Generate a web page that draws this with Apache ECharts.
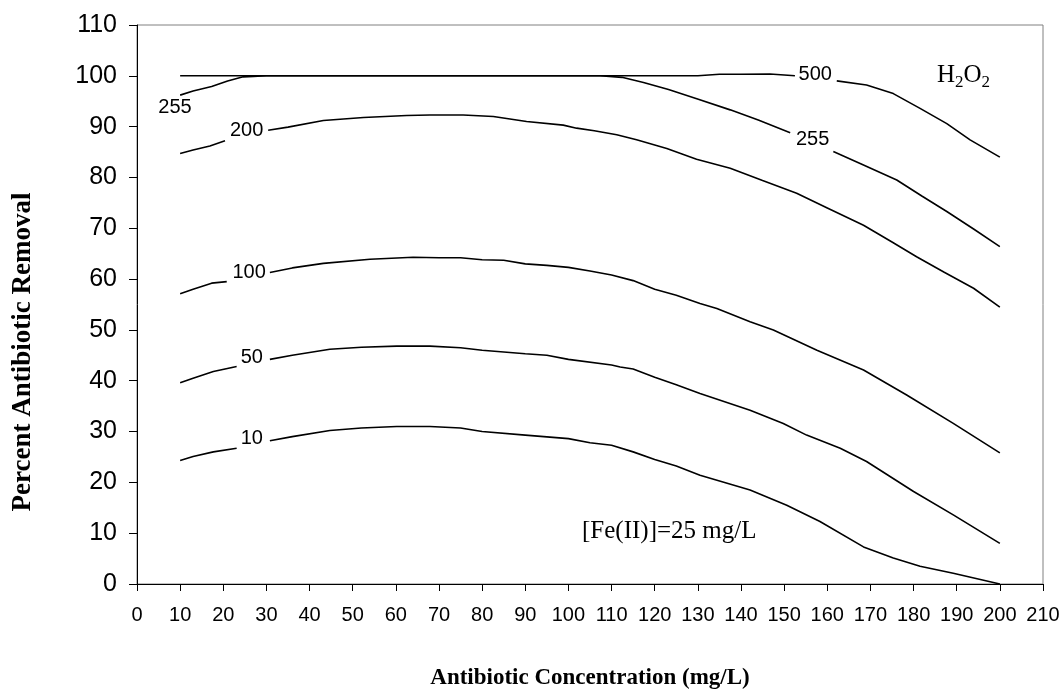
<!DOCTYPE html>
<html>
<head>
<meta charset="utf-8">
<script src="https://cdn.jsdelivr.net/npm/echarts@6/dist/echarts.min.js"></script>
<style>
html,body{margin:0;padding:0;background:#fff;}
#chart{width:1064px;height:691px;}
</style>
</head>
<body>
<div id="chart"></div>
<script>
// ---- Data (null marks a gap where a contour label sits) ----
const xTicks = [0,10,20,30,40,50,60,70,80,90,100,110,120,130,140,150,160,170,180,190,200,210];
const yTicks = [0,10,20,30,40,50,60,70,80,90,100,110];

const h500X = [10,20,30,40,50,60,70,80,90,100,110,120,130,135,140,146.7,152.5,null,162.2,169.1,175.3,181.5,187.7,193.1,200];
const h500Y = [100,100,100,100,100,100,100,100,100,100,100,100,100,100.3,100.3,100.35,100.0,null,99.0,98.2,96.5,93.6,90.6,87.4,84.0];

const h255X = [10,13,17.3,21,24.6,27,30,40,50,60,70,80,90,100,107.3,112.4,117.4,123.2,130.1,137.5,144,151.4,null,161.4,168,176.1,182,187.7,194,200];
const h255Y = [96.2,97.0,97.9,99.0,99.8,99.9,100,100,100,100,100,100,100,100,100,99.7,98.7,97.3,95.4,93.3,91.3,88.8,null,85.1,82.6,79.5,76.3,73.3,69.8,66.4];

const h200X = [10,13,16.9,20.4,null,30.4,35,43.2,52.5,62.5,67.9,75.6,82.6,90.3,98.8,101.9,106,111.2,115.8,122.8,129.7,137.5,145,152.9,160,168.4,175,180.7,187,193.9,200];
const h200Y = [84.7,85.4,86.2,87.2,null,89.3,89.9,91.2,91.8,92.2,92.3,92.3,92.0,91.0,90.3,89.7,89.2,88.4,87.4,85.7,83.6,81.8,79.4,76.9,74.0,70.6,67.3,64.4,61.4,58.2,54.5];

const h100X = [10,13,17.3,20.8,null,30.8,36,43.2,54,64,70,75,80,85,90,95,100,105,110,115,120,125,130.5,134.4,142.1,147.5,157.6,168.4,178.4,189.2,200];
const h100Y = [57.1,58.0,59.2,59.5,null,61.3,62.2,63.1,63.9,64.3,64.2,64.2,63.8,63.7,63.0,62.7,62.3,61.6,60.8,59.7,58.0,56.8,55.2,54.2,51.6,50.0,46.0,42.1,37.2,31.6,25.8];

const h50X = [10,13,17.7,23.1,null,30.8,36,44.7,52,60.2,67.9,75,80,90,95,100,110,112,115,120,125,130.5,142.1,149.8,155.2,163,169.1,180,189.2,200];
const h50Y = [39.6,40.5,41.8,42.8,null,44.2,45.0,46.2,46.6,46.8,46.8,46.5,46.0,45.3,45.0,44.2,43.1,42.7,42.3,40.7,39.2,37.5,34.2,31.6,29.3,26.7,24.1,18.2,13.6,8.0];

const h10X = [10,13,17.7,23.1,null,30.8,36,44.7,52,60.2,67.9,75,80,90,100,105,110,115,120,125,130.5,142.1,150.6,158.3,168.4,175.3,181.5,189.2,200];
const h10Y = [24.3,25.1,26.0,26.7,null,28.2,29.0,30.2,30.7,31.0,31.0,30.7,30.0,29.3,28.6,27.8,27.3,26.0,24.5,23.2,21.4,18.5,15.5,12.3,7.3,5.1,3.5,2.1,0];

// contour labels (H2O2 dose, mg/L)
const labelText = ['500','255','255','200','100','50','10'];
const labelX = [157.2,156.6,8.8,25.4,26.0,26.6,26.6];
const labelY = [100.3,87.5,93.7,89.2,61.3,44.5,28.7];

function pairs(xs, ys){
  return xs.map((x,i)=> (x===null||ys[i]===null) ? ['-','-'] : [x, ys[i]]);
}
const curves = [
  ['500', h500X, h500Y], ['255', h255X, h255Y], ['200', h200X, h200Y],
  ['100', h100X, h100Y], ['50', h50X, h50Y], ['10', h10X, h10Y]
];

const chart = echarts.init(document.getElementById('chart'), null, {renderer:'canvas'});
const lineSeries = curves.map(c => ({
  name: c[0], type:'line', data: pairs(c[1], c[2]),
  showSymbol:false, symbol:'none', connectNulls:false, smooth:false,
  lineStyle:{color:'#000', width:1.6}, silent:true
}));
const labelSeries = {
  type:'scatter', symbolSize:0, silent:true,
  data: labelText.map((t,i)=>[labelX[i], labelY[i], t]),
  itemStyle:{color:'#000', opacity:1},
  label:{show:true, position:'inside', formatter:p=>p.value[2],
         color:'#000', opacity:1, textBorderWidth:0, textShadowBlur:0,
         fontFamily:'Liberation Sans, Arial, sans-serif', fontSize:20}
};

const serif = 'Liberation Serif, Times New Roman, serif';
chart.setOption({
  animation:false,
  backgroundColor:'#fff',
  grid:{left:137, right:21, top:25, bottom:107, containLabel:false, outerBoundsMode:'none',
        show:true, borderColor:'#808080', borderWidth:1, backgroundColor:'transparent'},
  xAxis:{
    type:'value', min:0, max:210, interval:10,
    name:'Antibiotic Concentration (mg/L)', nameLocation:'middle', nameGap:83,
    nameTextStyle:{fontFamily:serif, fontWeight:'bold', fontSize:23, color:'#000'},
    axisLine:{show:true, lineStyle:{color:'#000', width:1}},
    axisTick:{show:true, inside:false, length:7, lineStyle:{color:'#000'}},
    axisLabel:{color:'#000', fontFamily:'Liberation Sans, Arial, sans-serif', fontSize:20, margin:21},
    splitLine:{show:false}
  },
  yAxis:{
    type:'value', min:0, max:110, interval:10,
    axisLine:{show:true, lineStyle:{color:'#000', width:1}},
    axisTick:{show:true, inside:false, length:8, lineStyle:{color:'#000'}},
    axisLabel:{color:'#000', fontFamily:'Liberation Sans, Arial, sans-serif', fontSize:25, margin:20},
    splitLine:{show:false}
  },
  series: lineSeries.concat([labelSeries]),
  graphic:[
    {type:'text', x:23, y:352, rotation:Math.PI/2, style:{
      text:'Percent Antibiotic Removal', fontFamily:serif, fontWeight:'bold', fontSize:27, fill:'#000',
      align:'center', verticalAlign:'middle'
    }},
    {type:'text', left:937, top:63, style:{
      text:'{n|H}{s|2}{n|O}{s|2}',
      rich:{n:{fontFamily:serif, fontSize:25, fill:'#000', verticalAlign:'bottom'},
            s:{fontFamily:serif, fontSize:17, fill:'#000', verticalAlign:'bottom', padding:[0,0,-3,0]}}
    }},
    {type:'text', left:582, top:519, style:{
      text:'[Fe(II)]=25 mg/L', fontFamily:serif, fontSize:25, fill:'#000'
    }}
  ]
});
</script>
</body>
</html>
